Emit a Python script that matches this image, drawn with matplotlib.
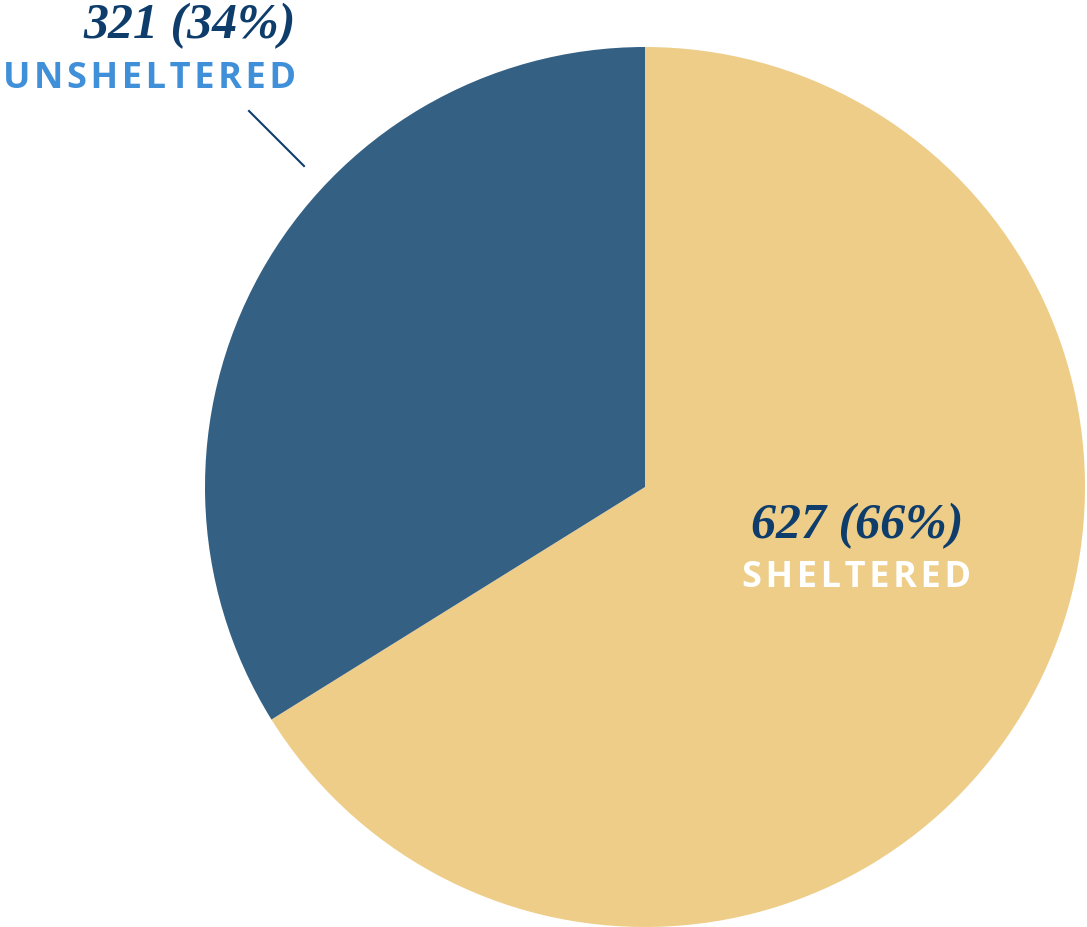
import numpy as np
import matplotlib
matplotlib.use('Agg')
import matplotlib.pyplot as plt

labels = ['SHELTERED', 'UNSHELTERED']
counts = [627, 321]
colors = ['#EDCD88', '#346084']

NUM_COLOR = '#0F3D6B'
W, H = 1087, 928

fig = plt.figure(figsize=(W / 100, H / 100), dpi=100)
ax = fig.add_axes([0, 0, 1, 1])

# pie centre / radius in pixel units (y measured from bottom)
cx, cy, r = 645, H - 488, 440
ax.pie(counts, colors=colors, startangle=90, counterclock=False,
       center=(cx, cy), radius=r, frame=True,
       wedgeprops=dict(linewidth=0))
ax.set_xlim(0, W)
ax.set_ylim(0, H)
ax.set_aspect('equal')
ax.axis('off')

total = sum(counts)
pct = [round(c / total * 100) for c in counts]

num_font = dict(family=['Liberation Serif', 'DejaVu Serif'], style='italic',
                weight='bold', fontsize=36, color=NUM_COLOR)
lab_font = dict(family=['Open Sans', 'DejaVu Sans'], weight='bold', fontsize=26)

def spaced(s):
    return '\u200a'.join(s)

# sheltered label (inside)
ax.text(857, H - 526, f'{counts[0]} ({pct[0]}%)', ha='center', va='center', **num_font)
ax.text(857, H - 578, spaced(labels[0]), ha='center', va='center', color='white', **lab_font)

# unsheltered label (outside, with leader)
ax.text(296, H - 26, f'{counts[1]} ({pct[1]}%)', ha='right', va='center', **num_font)
ax.text(296, H - 79, spaced(labels[1]), ha='right', va='center', color='#3F8FD9', **lab_font)
ax.plot([249, 304], [H - 112, H - 167], color=NUM_COLOR, lw=1.5)

fig.savefig('out.png', dpi=100)
